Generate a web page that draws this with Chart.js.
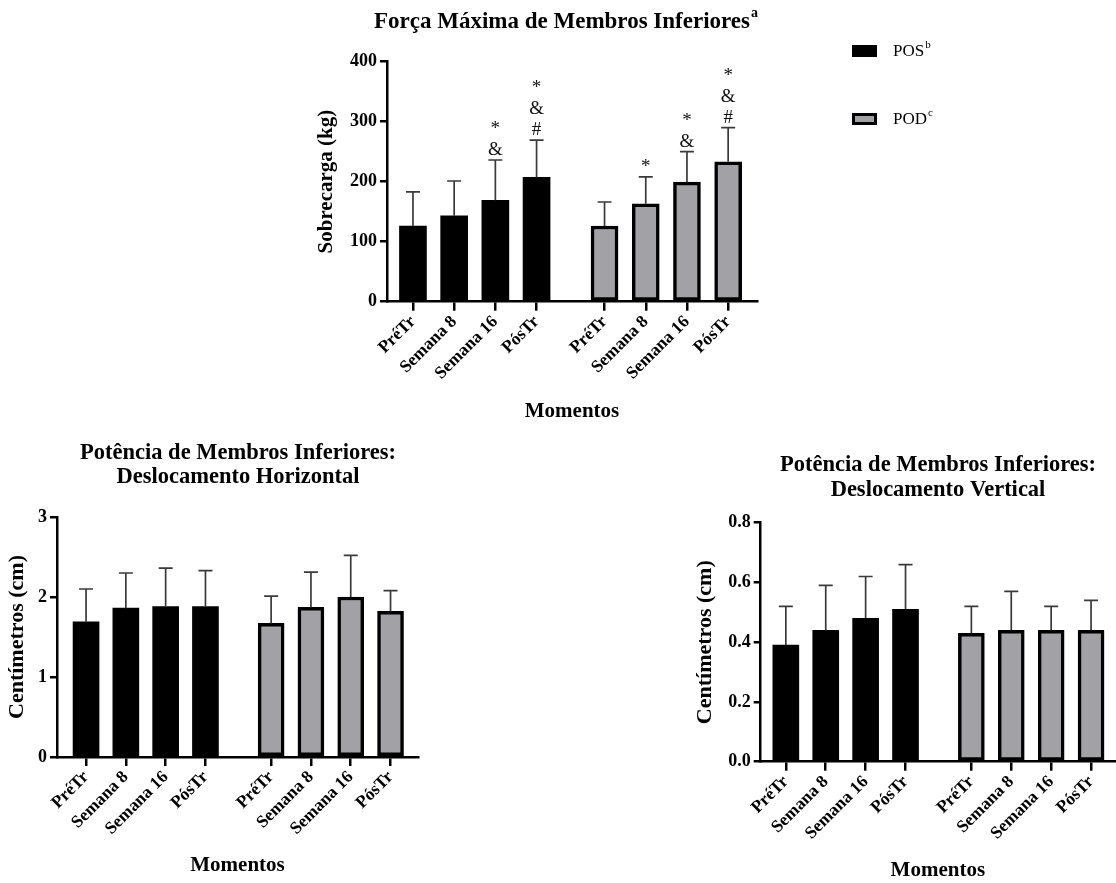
<!DOCTYPE html>
<html>
<head>
<meta charset="utf-8">
<script src="https://cdn.jsdelivr.net/npm/chart.js@4.4.1/dist/chart.umd.min.js"></script>
<style>
  html, body { margin: 0; padding: 0; background: #fff; }
  body { width: 1116px; height: 883px; position: relative; overflow: hidden; }
  .box { position: absolute; }
</style>
</head>
<body>
<div class="box" style="left:300px;top:0;width:816px;height:440px"><canvas id="forca"></canvas></div>
<div class="box" style="left:0;top:420px;width:440px;height:463px"><canvas id="horizontal"></canvas></div>
<div class="box" style="left:680px;top:420px;width:436px;height:463px"><canvas id="vertical"></canvas></div>
<script>
const MOMENTOS = ['PréTr', 'Semana 8', 'Semana 16', 'PósTr'];

// força máxima (kg), média e desvio padrão
const FORCA_POS = [126, 143, 169, 207];
const FORCA_POS_DP = [57, 58, 67, 62];
const FORCA_POD = [126, 163, 199, 233];
const FORCA_POD_DP = [40, 45, 51, 57];
const FORCA_POS_SIG = [[], [], ['*', '&'], ['*', '&', '#']];
const FORCA_POD_SIG = [[], ['*'], ['*', '&'], ['*', '&', '#']];

// deslocamento horizontal (cm)
const HORIZ_POS = [1.69, 1.86, 1.88, 1.88];
const HORIZ_POS_DP = [0.41, 0.44, 0.48, 0.45];
const HORIZ_POD = [1.67, 1.87, 2.00, 1.82];
const HORIZ_POD_DP = [0.34, 0.44, 0.52, 0.26];

// deslocamento vertical (cm)
const VERT_POS = [0.39, 0.44, 0.48, 0.51];
const VERT_POS_DP = [0.13, 0.15, 0.14, 0.15];
const VERT_POD = [0.43, 0.44, 0.44, 0.44];
const VERT_POD_DP = [0.09, 0.13, 0.08, 0.10];

const SERIF = '"Liberation Serif", "Times New Roman", serif';
const GAP = 4.65; // where the POD group starts on the x axis
const POSITIONS = [0, 1, 2, 3, GAP, GAP + 1, GAP + 2, GAP + 3];

function withSup(ctx, text, sup, x, y, size, weight, align) {
    const big = `${weight} ${size}px ${SERIF}`;
    const small = `${weight} ${Math.round(size * 0.62)}px ${SERIF}`;
    ctx.font = big;
    const w = ctx.measureText(text).width;
    ctx.font = small;
    const ws = sup ? ctx.measureText(sup).width + 1 : 0;
    const start = align === 'center' ? x - (w + ws) / 2 : x;
    ctx.textAlign = 'left';
    ctx.textBaseline = 'middle';
    ctx.font = big;
    ctx.fillText(text, start, y);
    if (sup) {
        ctx.font = small;
        ctx.fillText(sup, start + w + 1, y - size * 0.38);
    }
}

const extras = {
    id: 'extras',
    afterDatasetsDraw(chart) {
        const ctx = chart.ctx;
        const y = chart.scales.y;
        chart.data.datasets.forEach((ds, di) => {
            chart.getDatasetMeta(di).data.forEach((bar, i) => {
                const top = y.getPixelForValue(ds.data[i].y + ds.sd[i]);
                ctx.save();
                ctx.strokeStyle = '#3a3a3a';
                ctx.lineWidth = 1.7;
                ctx.beginPath();
                ctx.moveTo(bar.x, bar.y);
                ctx.lineTo(bar.x, top);
                ctx.moveTo(bar.x - 7, top);
                ctx.lineTo(bar.x + 7, top);
                ctx.stroke();
                const marks = (ds.sig || [])[i] || [];
                ctx.fillStyle = '#111';
                ctx.font = '19px ' + SERIF;
                ctx.textAlign = 'center';
                ctx.textBaseline = 'alphabetic';
                marks.slice().reverse().forEach((m, k) => ctx.fillText(m, bar.x, top - 5 - k * 21));
                ctx.restore();
            });
        });
    },
    afterDraw(chart, args, opts) {
        const ctx = chart.ctx;
        ctx.save();
        ctx.fillStyle = '#000';
        opts.title.forEach((line, i) => {
            const last = i === opts.title.length - 1;
            withSup(ctx, line, last ? opts.sup : '', opts.titleX, opts.titleY[i], opts.titleSize, 'bold', 'center');
        });
        if (opts.legend) {
            chart.data.datasets.forEach((ds, i) => {
                const cy = opts.legend.y[i];
                const bx = opts.legend.x;
                ctx.fillStyle = ds.borderColor;
                ctx.fillRect(bx, cy - 6, 25, 12);
                if (ds.borderWidth) {
                    ctx.fillStyle = ds.backgroundColor;
                    ctx.fillRect(bx + 3, cy - 3, 19, 6);
                }
                ctx.fillStyle = '#000';
                withSup(ctx, ds.label, ds.sup, bx + 41, cy + 1, 17, 'normal', 'left');
            });
        }
        ctx.restore();
    }
};

function barChart(id, o) {
    const font = (size) => ({ family: SERIF, size: size, weight: 'bold' });
    return new Chart(document.getElementById(id), {
        type: 'bar',
        data: {
            datasets: [
                {
                    label: 'POS', sup: 'b',
                    data: o.pos.map((v, i) => ({ x: POSITIONS[i], y: v })),
                    sd: o.posSd, sig: o.posSig,
                    backgroundColor: '#000', borderColor: '#000', borderWidth: 0,
                    barThickness: o.bar, grouped: false,
                },
                {
                    label: 'POD', sup: 'c',
                    data: o.pod.map((v, i) => ({ x: POSITIONS[i + 4], y: v })),
                    sd: o.podSd, sig: o.podSig,
                    backgroundColor: '#a2a2a6', borderColor: '#000', borderWidth: 3.5,
                    borderSkipped: false, barThickness: o.bar, grouped: false,
                },
            ]
        },
        options: {
            responsive: true,
            maintainAspectRatio: false,
            animation: false,
            layout: { padding: { top: o.padTop, right: o.padRight, bottom: 0, left: 0 } },
            scales: {
                x: {
                    type: 'linear',
                    offset: false,
                    min: o.xMin, max: o.xMax,
                    afterBuildTicks: s => { s.ticks = POSITIONS.map(v => ({ value: v })); },
                    afterFit: s => { s.height = o.xHeight; },
                    ticks: {
                        autoSkip: false, minRotation: 45, maxRotation: 45,
                        color: '#000', font: font(17.5), padding: 1,
                        callback: (v, i) => MOMENTOS[i % 4],
                    },
                    grid: { offset: false, drawOnChartArea: false, drawTicks: true, tickLength: 9, color: '#000', lineWidth: 2.5 },
                    border: { display: true, color: '#000', width: 2.5 },
                    title: { display: true, text: 'Momentos', color: '#000', font: font(21), padding: { top: 0, bottom: o.xTitlePad } },
                },
                y: {
                    min: 0, max: o.yMax,
                    afterFit: s => { s.width = o.yWidth; },
                    ticks: { stepSize: o.yStep, color: '#000', font: font(18), padding: 3, callback: o.fmt },
                    grid: { drawOnChartArea: false, drawTicks: true, tickLength: 7, color: '#000', lineWidth: 2.5 },
                    border: { display: true, color: '#000', width: 2.5 },
                    title: { display: true, text: o.yTitle, color: '#000', font: font(o.yTitleSize), padding: { top: o.yTitlePad, bottom: 0 } },
                },
            },
            plugins: {
                legend: { display: false },
                tooltip: { enabled: false },
                extras: o.extras,
            }
        },
        plugins: [extras],
    });
}

barChart('forca', {
    pos: FORCA_POS, posSd: FORCA_POS_DP, posSig: FORCA_POS_SIG,
    pod: FORCA_POD, podSd: FORCA_POD_DP, podSig: FORCA_POD_SIG,
    bar: 27, xMin: -0.63, xMax: 8.35, yMax: 400, yStep: 100, fmt: v => String(v),
    padTop: 61.5, padRight: 359, xHeight: 138.3, yWidth: 87, xTitlePad: 16, yTitlePad: 14,
    yTitle: 'Sobrecarga (kg)', yTitleSize: 21,
    extras: {
        title: ['Força Máxima de Membros Inferiores'], sup: 'a', titleX: 266, titleY: [22], titleSize: 23,
        legend: { x: 552, y: [51, 119] },
    },
});

barChart('horizontal', {
    pos: HORIZ_POS, posSd: HORIZ_POS_DP, posSig: [],
    pod: HORIZ_POD, podSd: HORIZ_POD_DP, podSig: [],
    bar: 26, xMin: -0.73, xMax: 8.34, yMax: 3, yStep: 1, fmt: v => String(v),
    padTop: 97, padRight: 22, xHeight: 126, yWidth: 57, xTitlePad: 5, yTitlePad: 4,
    yTitle: 'Centímetros (cm)', yTitleSize: 22,
    extras: {
        title: ['Potência de Membros Inferiores:', 'Deslocamento Horizontal'], sup: '', titleX: 238, titleY: [33, 57], titleSize: 22.5,
    },
});

barChart('vertical', {
    pos: VERT_POS, posSd: VERT_POS_DP, posSig: [],
    pod: VERT_POD, podSd: VERT_POD_DP, podSig: [],
    bar: 26, xMin: -0.63, xMax: 8.25, yMax: 0.8, yStep: 0.2, fmt: v => v.toFixed(1),
    padTop: 102.7, padRight: 1, xHeight: 121.3, yWidth: 80.7, xTitlePad: 0, yTitlePad: 12,
    yTitle: 'Centímetros (cm)', yTitleSize: 22,
    extras: {
        title: ['Potência de Membros Inferiores:', 'Deslocamento Vertical'], sup: '', titleX: 258, titleY: [45, 70], titleSize: 22.5,
    },
});
</script>
</body>
</html>
